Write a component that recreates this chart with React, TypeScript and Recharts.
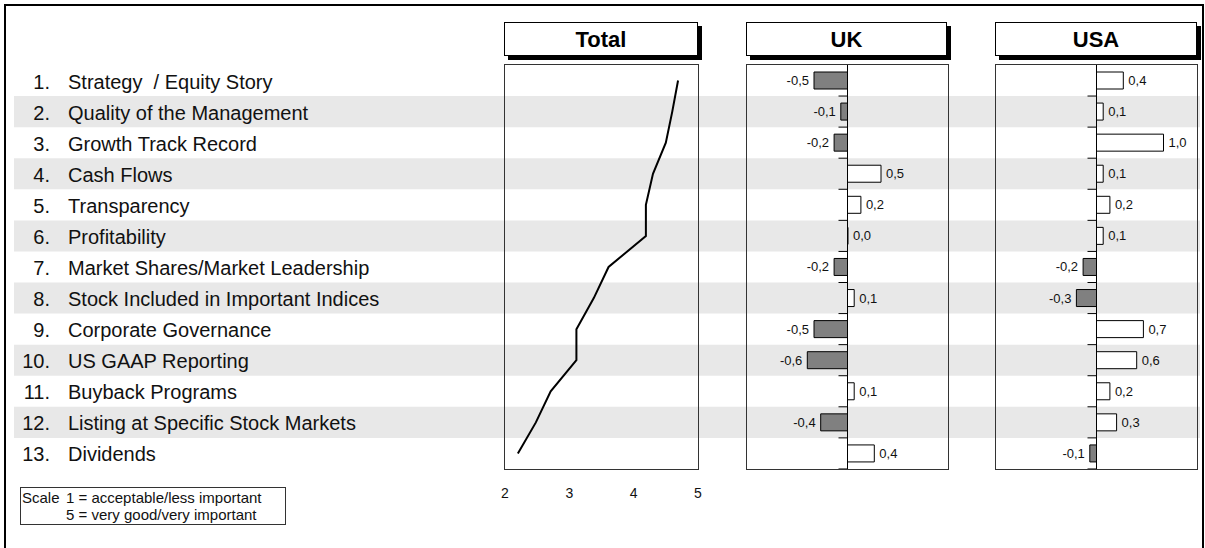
import { ComposedChart, LineChart, Line, BarChart, Bar, Cell, XAxis, YAxis, ReferenceArea, ReferenceLine, LabelList } from 'recharts'

const criteria = [
  'Strategy  / Equity Story',
  'Quality of the Management',
  'Growth Track Record',
  'Cash Flows',
  'Transparency',
  'Profitability',
  'Market Shares/Market Leadership',
  'Stock Included in Important Indices',
  'Corporate Governance',
  'US GAAP Reporting',
  'Buyback Programs',
  'Listing at Specific Stock Markets',
  'Dividends',
]
const totalScores = [4.69, 4.6, 4.5, 4.3, 4.19, 4.19, 3.61, 3.38, 3.11, 3.11, 2.71, 2.48, 2.2]
const ukDiff = [-0.5, -0.1, -0.2, 0.5, 0.2, 0.0, -0.2, 0.1, -0.5, -0.6, 0.1, -0.4, 0.4]
const usaDiff = [0.4, 0.1, 1.0, 0.1, 0.2, 0.1, -0.2, -0.3, 0.7, 0.6, 0.2, 0.3, -0.1]
const totalTicks = [2, 3, 4, 5]
const panelTitles = ['Total', 'UK', 'USA']

const rows = criteria.map((name, i) => ({ name, total: totalScores[i], uk: ukDiff[i], usa: usaDiff[i] }))

const FONT = '"Liberation Sans", Arial, sans-serif'
const TOP = 65
const PLOT_H = 404
const ROW_H = PLOT_H / rows.length
const BAR_W = 201

const fmt = (v: number) => v.toFixed(1).replace('.', ',')

// label column on the left (number right aligned, text left aligned)
const CriterionTick = (props: any) => {
  const { y, payload, index } = props
  return (
    <g>
      <text x={37} y={y + 1} textAnchor="end" dominantBaseline="central" fontSize={20} fill="#111" fontFamily={FONT}>
        {index + 1}.
      </text>
      <text x={55} y={y + 1} dominantBaseline="central" fontSize={20} fill="#111" fontFamily={FONT} style={{ whiteSpace: 'pre' }}>
        {payload.value}
      </text>
    </g>
  )
}

const barGeom = (props: any) => {
  const vb = props.viewBox ?? props
  const { x, y, width, height } = vb
  const v = Number(props.value)
  const left = Math.min(x, x + width)
  const right = Math.max(x, x + width)
  return { v, left, right, cy: y + height / 2 }
}

// short tick on the zero line at the bottom edge of every row
const BoundaryTick = (props: any) => {
  const { v, left, right, cy } = barGeom(props)
  const zx = v < 0 ? right : left
  const yb = cy + ROW_H / 2
  return <line x1={zx - 9} x2={zx} y1={yb} y2={yb} stroke="#000" strokeWidth={1} />
}

const ValueLabel = (props: any) => {
  const { v, left, right, cy } = barGeom(props)
  const neg = v < 0
  return (
    <text
      x={neg ? left - 5 : right + 5}
      y={cy}
      textAnchor={neg ? 'end' : 'start'}
      dominantBaseline="central"
      fontSize={13}
      fill="#111"
      fontFamily={FONT}
    >
      {fmt(v)}
    </text>
  )
}

function DiffPanel({ dataKey, left }: { dataKey: 'uk' | 'usa'; left: number }) {
  return (
    <div style={{ position: 'absolute', left, top: TOP }}>
      <div
        style={{
          position: 'absolute',
          left: -1,
          top: -1,
          width: BAR_W,
          height: PLOT_H,
          border: '1px solid #333',
        }}
      />
      <BarChart width={BAR_W} height={PLOT_H} data={rows} layout="vertical" margin={{ top: 0, right: 0, bottom: 0, left: 0 }} barCategoryGap={0}>
        <XAxis type="number" domain={[-1.5, 1.5]} hide />
        <YAxis type="category" dataKey="name" hide />
        <ReferenceLine x={0} stroke="#000" strokeWidth={1} ifOverflow="visible" />
        <Bar dataKey={dataKey} barSize={17} stroke="#000" strokeWidth={1} minPointSize={0.5} isAnimationActive={false}>
          {rows.map((r, i) => (
            <Cell key={i} fill={r[dataKey] < 0 ? '#808080' : '#ffffff'} />
          ))}
          <LabelList dataKey={dataKey} content={BoundaryTick} />
          <LabelList dataKey={dataKey} content={ValueLabel} />
        </Bar>
      </BarChart>
    </div>
  )
}

function Header({ title, left, width }: { title: string; left: number; width: number }) {
  return (
    <div
      style={{
        position: 'absolute',
        left,
        top: 22,
        width,
        height: 32,
        border: '1px solid #000',
        background: '#fff',
        boxShadow: '4px 4px 0 0 #000',
        fontFamily: FONT,
        fontWeight: 'bold',
        fontSize: 22,
        lineHeight: '33px',
        textAlign: 'center',
        color: '#000',
      }}
    >
      {title}
    </div>
  )
}

export default function App() {
  return (
    <div style={{ position: 'absolute', left: 0, top: 0, width: 1205, height: 548, background: '#fff', overflow: 'hidden' }}>
      <div
        style={{
          position: 'absolute',
          left: 4,
          top: 4,
          width: 1196,
          height: 600,
          borderTop: '2px solid #000',
          borderLeft: '2px solid #000',
          borderRight: '2px solid #000',
        }}
      />

      {/* stripes + criterion labels */}
      <div style={{ position: 'absolute', left: 13, top: TOP }}>
        <ComposedChart width={1187} height={PLOT_H} data={rows} layout="vertical" margin={{ top: 0, right: 0, bottom: 0, left: 0 }} barCategoryGap={0}>
          <XAxis type="number" hide />
          {rows
            .filter((_, i) => i % 2 === 1)
            .map((r) => (
              <ReferenceArea key={r.name} y1={r.name} y2={r.name} fill="#e8e8e8" fillOpacity={1} stroke="none" ifOverflow="visible" />
            ))}
          <Bar dataKey="total" fill="none" stroke="none" isAnimationActive={false} />
          <YAxis type="category" dataKey="name" width={1} axisLine={false} tickLine={false} tick={CriterionTick} interval={0} />
        </ComposedChart>
      </div>

      <Header title={panelTitles[0]} left={504} width={192} />
      <Header title={panelTitles[1]} left={746} width={199} />
      <Header title={panelTitles[2]} left={995} width={200} />

      {/* Total line */}
      <div style={{ position: 'absolute', left: 495, top: TOP }}>
        <div style={{ position: 'absolute', left: 9, top: -1, width: 193, height: PLOT_H, border: '1px solid #333' }} />
        <LineChart width={213} height={PLOT_H + 40} data={rows} layout="vertical" margin={{ top: 0, right: 10, bottom: 0, left: 10 }}>
          <XAxis
            type="number"
            domain={[2, 5]}
            ticks={totalTicks}
            axisLine={false}
            tickLine={false}
            tickMargin={13}
            height={40}
            tick={{ fontSize: 14, fill: '#111', fontFamily: FONT }}
          />
          <YAxis type="category" dataKey="name" hide padding={{ top: ROW_H / 2, bottom: ROW_H / 2 }} />
          <Line dataKey="total" stroke="#000" strokeWidth={2} dot={false} isAnimationActive={false} />
        </LineChart>
      </div>

      <DiffPanel dataKey="uk" left={747} />
      <DiffPanel dataKey="usa" left={996} />

      <div
        style={{
          position: 'absolute',
          left: 20,
          top: 487,
          width: 264,
          height: 36,
          border: '1px solid #333',
          fontFamily: FONT,
          fontSize: 15,
          color: '#111',
          lineHeight: '17px',
        }}
      >
        <div style={{ position: 'absolute', left: 1, top: 1 }}>Scale</div>
        <div style={{ position: 'absolute', left: 45, top: 1, whiteSpace: 'nowrap' }}>1 = acceptable/less important</div>
        <div style={{ position: 'absolute', left: 45, top: 18, whiteSpace: 'nowrap' }}>5 = very good/very important</div>
      </div>
    </div>
  )
}
